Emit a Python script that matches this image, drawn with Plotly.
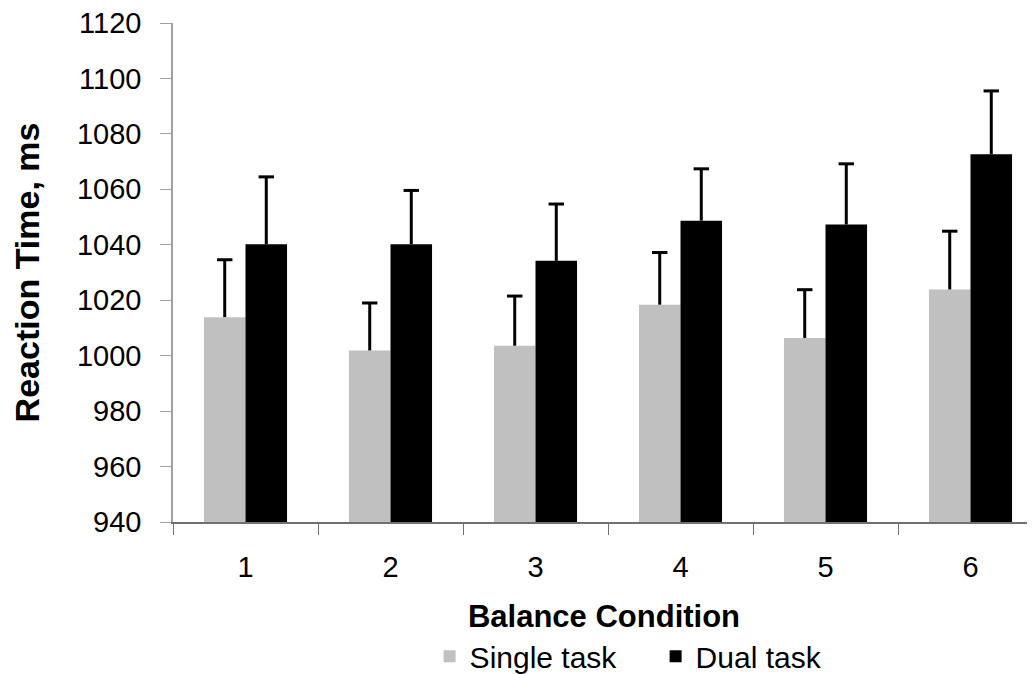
import plotly.graph_objects as go

categories = ["1", "2", "3", "4", "5", "6"]
single_task = [1013.9, 1001.9, 1003.6, 1018.4, 1006.4, 1023.9]
single_err = [20.7, 17.1, 17.9, 18.8, 17.4, 21.0]
dual_task = [1040.2, 1040.2, 1034.2, 1048.7, 1047.3, 1072.7]
dual_err = [24.3, 19.4, 20.5, 18.7, 21.9, 22.8]
y_ticks = [940, 960, 980, 1000, 1020, 1040, 1060, 1080, 1100, 1120]

FONT = "Liberation Sans, Arial, sans-serif"
GRAY = "#c0c0c0"

fig = go.Figure()

fig.add_trace(go.Bar(name="Single task", x=categories, y=single_task,
                     marker=dict(color=GRAY, line=dict(width=0)),
                     offsetgroup="s"))
fig.add_trace(go.Bar(name="Dual task", x=categories, y=dual_task,
                     marker=dict(color="black", line=dict(width=0)),
                     offsetgroup="d"))

# error bars: upward only (stem + cap), drawn from the top of each whisker
for vals, errs, grp in [(single_task, single_err, "s"), (dual_task, dual_err, "d")]:
    tops = [v + e for v, e in zip(vals, errs)]
    fig.add_trace(go.Scatter(
        x=categories, y=tops, mode="markers", offsetgroup=grp, showlegend=False,
        hoverinfo="skip",
        marker=dict(symbol="line-ew", size=11, color="black",
                    line=dict(width=3, color="black")),
        error_y=dict(type="data", symmetric=False, array=[0] * len(errs),
                     arrayminus=errs, width=0, thickness=3, color="black"),
    ))

# the page body adds an 8px margin, so the figure is 8px smaller each way
fig.update_layout(
    width=1027, height=666,
    margin=dict(l=165, r=0, t=15, b=152, pad=0, autoexpand=False),
    paper_bgcolor="white", plot_bgcolor="white",
    barmode="group", bargap=0.427, bargroupgap=0,
    scattermode="group", scattergap=0.427,
    font=dict(family=FONT, color="black", size=29),
    showlegend=True,
    legend=dict(orientation="h", x=0.2977, xanchor="left", y=-0.269, yanchor="middle",
                font=dict(size=30, family=FONT), entrywidth=181, entrywidthmode="pixels",
                bgcolor="rgba(0,0,0,0)", traceorder="normal"),
)

fig.update_xaxes(
    type="category", range=[-0.5, -0.5 + 862 / 145], automargin=False,
    showline=True, linecolor="#707070", linewidth=1.5,
    ticks="outside", ticklen=11, tickcolor="#707070", tickwidth=1,
    tickson="boundaries", showgrid=False, zeroline=False,
    tickfont=dict(size=29, family=FONT), ticklabelstandoff=18,
    title=dict(text="<b>Balance Condition</b>", font=dict(size=31, family=FONT), standoff=24),
)
fig.update_yaxes(
    range=[940, 1120], tickvals=y_ticks, automargin=False,
    showline=True, linecolor="#a0a0a0", linewidth=1.5,
    ticks="outside", ticklen=11, tickcolor="#a0a0a0", tickwidth=1,
    showgrid=False, zeroline=False, ticklabeloverflow="allow",
    tickfont=dict(size=29, family=FONT), ticklabelstandoff=13,
    title=dict(text="<b>Reaction Time, ms</b>", font=dict(size=34, family=FONT), standoff=36),
)

fig.write_html("out.html")
